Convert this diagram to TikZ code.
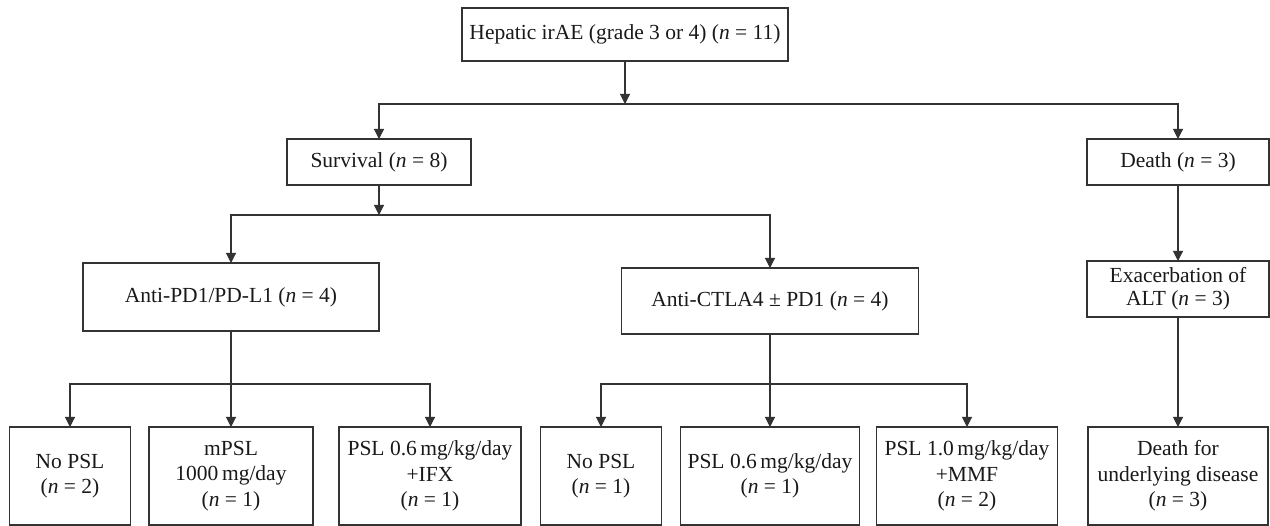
\documentclass[tikz,border=0pt]{standalone}
\usepackage{fontspec}
\setmainfont{Liberation Serif}
\usetikzlibrary{arrows.meta}
\begin{document}
\begin{tikzpicture}[x=1pt,y=-1pt,
  box/.style={draw=black!80, line width=1.1pt, inner sep=0pt, outer sep=0pt,
    align=center, font=\fontsize{21.5}{25.5}\selectfont, text=black!90},
  arr/.style={draw=black!80, line width=1.1pt, -{Triangle[width=10pt,length=10pt]}},
  ln/.style={draw=black!80, line width=1.1pt}]
\useasboundingbox (0,0) rectangle (1270,526);
% nodes
\node[box, minimum width=326pt, minimum height=53pt] (top) at (625,34.5) {Hepatic irAE (grade 3 or 4) (\textit{n} = 11)};
\node[box, minimum width=184pt, minimum height=46pt] (surv) at (379,162) {Survival (\textit{n} = 8)};
\node[box, minimum width=182pt, minimum height=46pt] (death) at (1178,162) {Death (\textit{n} = 3)};
\node[box, minimum width=296pt, minimum height=68pt] (pd1) at (231,297) {Anti-PD1/PD-L1 (\textit{n} = 4)};
\node[box, minimum width=297pt, minimum height=66pt] (ctla) at (770,301) {Anti-CTLA4 ± PD1 (\textit{n} = 4)};
\node[box, minimum width=182pt, minimum height=56pt, font=\fontsize{21.5}{23}\selectfont] (exac) at (1178,289) {Exacerbation of\\ALT (\textit{n} = 3)};
\node[box, minimum width=121pt, minimum height=98pt] (b1) at (70,476) {No PSL\\(\textit{n} = 2)};
\node[box, minimum width=164pt, minimum height=98pt] (b2) at (231,476) {mPSL\\1000\,mg/day\\(\textit{n} = 1)};
\node[box, minimum width=182pt, minimum height=98pt] (b3) at (430,476) {PSL 0.6\,mg/kg/day\\+IFX\\(\textit{n} = 1)};
\node[box, minimum width=121pt, minimum height=98pt] (b4) at (601,476) {No PSL\\(\textit{n} = 1)};
\node[box, minimum width=179pt, minimum height=98pt] (b5) at (770,476) {PSL 0.6\,mg/kg/day\\(\textit{n} = 1)};
\node[box, minimum width=181pt, minimum height=98pt] (b6) at (967,476) {PSL 1.0\,mg/kg/day\\+MMF\\(\textit{n} = 2)};
\node[box, minimum width=180pt, minimum height=98pt] (b7) at (1178,476) {Death for\\underlying disease\\(\textit{n} = 3)};
% branch levels
\coordinate (brA) at (0,104);
\coordinate (brB) at (0,215);
\coordinate (brC) at (0,384);
% connectors
\draw[arr] (top) -- (top |- brA);
\draw[arr] (top |- brA) -| (surv);
\draw[arr] (top |- brA) -| (death);
\draw[arr] (surv) -- (surv |- brB);
\draw[arr] (surv |- brB) -| (pd1);
\draw[arr] (surv |- brB) -| (ctla);
\draw[arr] (death) -- (exac);
\draw[arr] (exac) -- (b7);
\draw[arr] (pd1) -- (b2);
\draw[arr] (pd1 |- brC) -| (b1);
\draw[arr] (pd1 |- brC) -| (b3);
\draw[arr] (ctla) -- (b5);
\draw[arr] (ctla |- brC) -| (b4);
\draw[arr] (ctla |- brC) -| (b6);
\end{tikzpicture}
\end{document}
